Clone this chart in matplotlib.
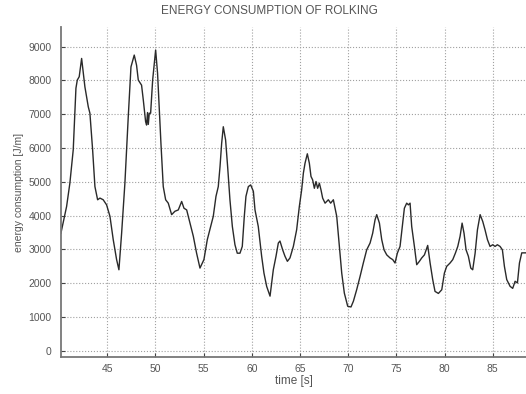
import matplotlib
matplotlib.use("Agg")
import matplotlib.pyplot as plt

# time [s] and energy consumption [J/m]
time_s = [40.19, 40.78, 41.12, 41.47, 41.75, 41.89, 42.09, 42.34, 42.68, 43.03,
          43.20, 43.48, 43.72, 44.00, 44.24, 44.58, 44.93, 45.28, 45.62, 45.97,
          46.21, 46.49, 46.83, 47.18, 47.46, 47.80, 48.04, 48.22, 48.56, 48.74,
          48.98, 49.08, 49.18, 49.26, 49.36, 49.50, 49.71, 49.88, 50.02, 50.22,
          50.40, 50.57, 50.81, 51.06, 51.33, 51.68, 52.02, 52.37, 52.72, 52.96,
          53.24, 53.58, 53.93, 54.27, 54.62, 55.03, 55.38, 55.73, 56.00, 56.28,
          56.52, 56.70, 56.87, 57.04, 57.28, 57.49, 57.73, 57.98, 58.25, 58.49,
          58.77, 59.01, 59.22, 59.39, 59.64, 59.88, 60.16, 60.33, 60.67, 61.02,
          61.26, 61.54, 61.89, 62.23, 62.51, 62.75, 62.92, 63.20, 63.44, 63.69,
          63.96, 64.31, 64.65, 64.93, 65.17, 65.35, 65.52, 65.76, 65.97, 66.14,
          66.31, 66.49, 66.66, 66.83, 67.01, 67.18, 67.35, 67.60, 67.94, 68.18,
          68.46, 68.81, 69.08, 69.33, 69.60, 69.95, 70.29, 70.54, 70.88, 71.23,
          71.57, 71.92, 72.27, 72.54, 72.79, 72.96, 73.24, 73.48, 73.72, 74.00,
          74.34, 74.62, 74.86, 75.10, 75.38, 75.62, 75.83, 76.07, 76.25, 76.42,
          76.59, 76.87, 77.11, 77.39, 77.63, 77.91, 78.15, 78.25, 78.50, 78.77,
          79.01, 79.36, 79.71, 79.98, 80.22, 80.57, 80.85, 81.12, 81.37, 81.61,
          81.82, 82.02, 82.23, 82.47, 82.72, 82.92, 83.17, 83.41, 83.69, 83.96,
          84.20, 84.45, 84.72, 85.00, 85.24, 85.48, 85.76, 86.00, 86.21, 86.45,
          86.80, 87.07, 87.32, 87.56, 87.77, 88.01, 88.50]
energy = [3480, 4270, 4960, 5950, 7770, 8010, 8110, 8650, 7810, 7220,
          7030, 5950, 4860, 4470, 4520, 4470, 4320, 3980, 3290, 2700,
          2400, 3480, 4960, 6930, 8400, 8750, 8450, 8010, 7860, 7420,
          6780, 6680, 7050, 6700, 7030, 7030, 8010, 8500, 8900, 8210,
          7130, 6140, 4860, 4470, 4370, 4030, 4130, 4170, 4420, 4220,
          4170, 3780, 3390, 2890, 2450, 2700, 3290, 3680, 3980, 4570,
          4860, 5450, 6140, 6630, 6240, 5450, 4470, 3680, 3140, 2890,
          2890, 3090, 3980, 4570, 4860, 4910, 4720, 4170, 3680, 2800,
          2300, 1910, 1620, 2400, 2800, 3190, 3250, 2990, 2800, 2650,
          2750, 3090, 3580, 4270, 4760, 5260, 5550, 5830, 5550, 5160,
          5060, 4810, 5010, 4810, 4960, 4760, 4520, 4370, 4470, 4370,
          4470, 3980, 3090, 2300, 1710, 1320, 1300, 1470, 1810, 2200,
          2600, 2990, 3190, 3480, 3880, 4030, 3780, 3290, 2990, 2840,
          2750, 2700, 2600, 2890, 3090, 3680, 4220, 4370, 4320, 4370,
          3680, 3090, 2550, 2650, 2750, 2840, 3040, 3120, 2600, 2110,
          1760, 1700, 1810, 2300, 2500, 2600, 2700, 2890, 3090, 3390,
          3780, 3480, 2990, 2800, 2450, 2400, 2890, 3580, 4030, 3830,
          3580, 3290, 3090, 3140, 3090, 3140, 3090, 2990, 2500, 2110,
          1910, 1850, 2060, 2010, 2600, 2900, 2900]

x_ticks = [45, 50, 55, 60, 65, 70, 75, 80, 85]
y_ticks = [0, 1000, 2000, 3000, 4000, 5000, 6000, 7000, 8000, 9000]

plt.rcParams['font.family'] = ['Liberation Sans', 'DejaVu Sans']
text_color = '#555555'

fig = plt.figure(figsize=(5.26, 3.94), dpi=100)
ax = fig.add_axes([61 / 526, 37 / 394, 465 / 526, 330 / 394])

ax.plot(time_s, energy, color='#2a2a2a', linewidth=1.0)

ax.set_xlim(40.2, 88.45)
ax.set_ylim(-180, 9580)
ax.set_xticks(x_ticks)
ax.set_yticks(y_ticks)
ax.grid(True, linestyle=':', color='#a0a0a0', linewidth=0.8)

for side in ['top', 'right']:
    ax.spines[side].set_visible(False)
for side in ['left', 'bottom']:
    ax.spines[side].set_color('#777777')
    ax.spines[side].set_linewidth(1.3)

ax.tick_params(axis='both', direction='in', length=3, color='#444444',
               labelsize=7.5, labelcolor=text_color)
ax.tick_params(axis='y', pad=7)
ax.tick_params(axis='x', pad=5)

ax.set_xlabel('time [s]', fontsize=8.5, color=text_color, labelpad=1)
ax.set_ylabel('energy consumption [J/m]', fontsize=7.5, color=text_color, labelpad=3)
ax.set_title('ENERGY CONSUMPTION OF ROLKING', fontsize=8.5, color=text_color,
             x=(269 - 61) / 465, pad=9)

fig.savefig('out.png', dpi=100)
